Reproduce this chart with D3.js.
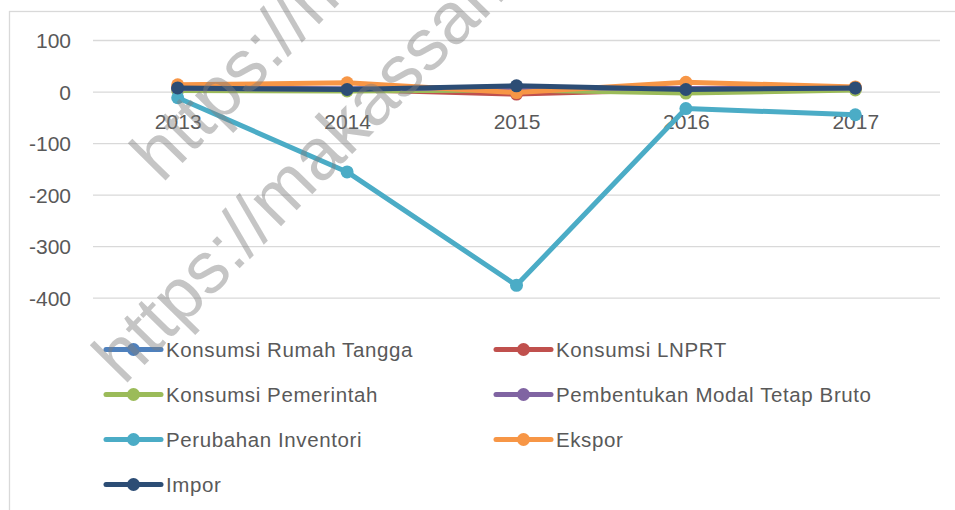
<!DOCTYPE html>
<html>
<head>
<meta charset="utf-8">
<script src="https://cdn.jsdelivr.net/npm/d3@7"></script>
<style>
  html, body { margin: 0; padding: 0; background: #ffffff; }
  svg { display: block; }
</style>
</head>
<body>
<svg id="chart" width="955" height="510"></svg>
<script>
// ---- Data ----
const years = ["2013", "2014", "2015", "2016", "2017"];
const seriesNames = [
  "Konsumsi Rumah Tangga",
  "Konsumsi LNPRT",
  "Konsumsi Pemerintah",
  "Pembentukan Modal Tetap Bruto",
  "Perubahan Inventori",
  "Ekspor",
  "Impor"
];
const konsumsiRumahTangga = [7, 5, 9, 5, 7];
const konsumsiLNPRT = [6, 4, -5, 4, 6];
const konsumsiPemerintah = [2, 1, 3, -3, 3];
const pembentukanModal = [6, 5, 8, 6, 7];
const perubahanInventori = [-12, -156, -376, -33, -45];
const ekspor = [13, 17, -2, 18, 9];
const impor = [7, 4, 11, 4, 7];
const yTicks = [100, 0, -100, -200, -300, -400];
const yTickLabels = ["100", "0", "-100", "-200", "-300", "-400"];
const seriesColors = ["#4F81BD", "#C0504D", "#9BBB59", "#8064A2", "#4BACC6", "#F79646", "#2C4D75"];
const watermarkText = "https://makassar.bps.go.id";

const seriesValues = [konsumsiRumahTangga, konsumsiLNPRT, konsumsiPemerintah, pembentukanModal, perubahanInventori, ekspor, impor];
const series = seriesNames.map((name, i) => ({
  name, color: seriesColors[i],
  values: years.map((y, j) => ({ year: y, value: seriesValues[i][j] }))
}));

// ---- Layout ----
const svg = d3.select("#chart");
const FONT = "'Liberation Sans', Arial, sans-serif";
const TEXT = "#595959";
const GRID = "#d9d9d9";

// chart area border
svg.append("rect")
  .attr("x", 9.5).attr("y", 11.5)
  .attr("width", 1000).attr("height", 600)
  .attr("fill", "none").attr("stroke", GRID).attr("stroke-width", 1.3);

const plotLeft = 93, plotRight = 940;
const x = d3.scalePoint().domain(years).range([plotLeft, plotRight]).padding(0.5);
const y = d3.scaleLinear().domain([-400, 100]).range([297.7, 40]);

// gridlines + value labels
const yAxis = d3.axisLeft(y).tickValues(yTicks)
  .tickSize(-(plotRight - plotLeft)).tickPadding(22)
  .tickFormat((d, i) => yTickLabels[i]);
const gy = svg.append("g").attr("transform", `translate(${plotLeft},0)`).call(yAxis);
gy.select(".domain").remove();
gy.selectAll(".tick line").attr("stroke", GRID).attr("stroke-width", 1.3);
gy.selectAll(".tick text")
  .attr("fill", TEXT).attr("font-family", FONT).attr("font-size", 21)
  .attr("dy", "0.36em");

// category axis at zero
const xAxis = d3.axisBottom(x).tickSize(0).tickPadding(23);
const gx = svg.append("g").attr("transform", `translate(0,${y(0)})`).call(xAxis);
gx.select(".domain").remove();
gx.selectAll(".tick text")
  .attr("fill", TEXT).attr("font-family", FONT).attr("font-size", 21);

// lines
const line = d3.line().x(d => x(d.year)).y(d => y(d.value));
const gs = svg.append("g");
series.forEach(s => {
  const g = gs.append("g");
  g.append("path").datum(s.values)
    .attr("d", line).attr("fill", "none")
    .attr("stroke", s.color).attr("stroke-width", 5)
    .attr("stroke-linejoin", "round").attr("stroke-linecap", "round");
  g.selectAll("circle").data(s.values).join("circle")
    .attr("cx", d => x(d.year)).attr("cy", d => y(d.value))
    .attr("r", 6.5).attr("fill", s.color);
});

// legend
const legendCols = [106, 496];
const legendRows = [349.5, 394.5, 439.5, 484.5];
const lg = svg.append("g");
series.forEach((s, i) => {
  const lx = legendCols[i % 2];
  const ly = legendRows[Math.floor(i / 2)];
  const item = lg.append("g").attr("transform", `translate(${lx},${ly})`);
  item.append("line").attr("x1", 0).attr("x2", 55).attr("y1", 0).attr("y2", 0)
    .attr("stroke", s.color).attr("stroke-width", 5).attr("stroke-linecap", "round");
  item.append("circle").attr("cx", 27.5).attr("cy", 0).attr("r", 6.5).attr("fill", s.color);
  item.append("text").attr("x", 60).attr("y", 0).attr("dy", "0.36em")
    .attr("fill", TEXT).attr("font-family", FONT).attr("font-size", 20.5)
    .attr("letter-spacing", 0.6)
    .text(s.name);
});

// watermark
const wm = svg.append("g").attr("pointer-events", "none");
[[162, 184], [124, 386]].forEach(([wx, wy]) => {
  wm.append("text")
    .attr("transform", `translate(${wx},${wy}) rotate(-45.5)`)
    .attr("font-family", FONT).attr("font-size", 73)
    .attr("fill", "#7f7f7f").attr("fill-opacity", 0.45)
    .text(watermarkText);
});
</script>
</body>
</html>
